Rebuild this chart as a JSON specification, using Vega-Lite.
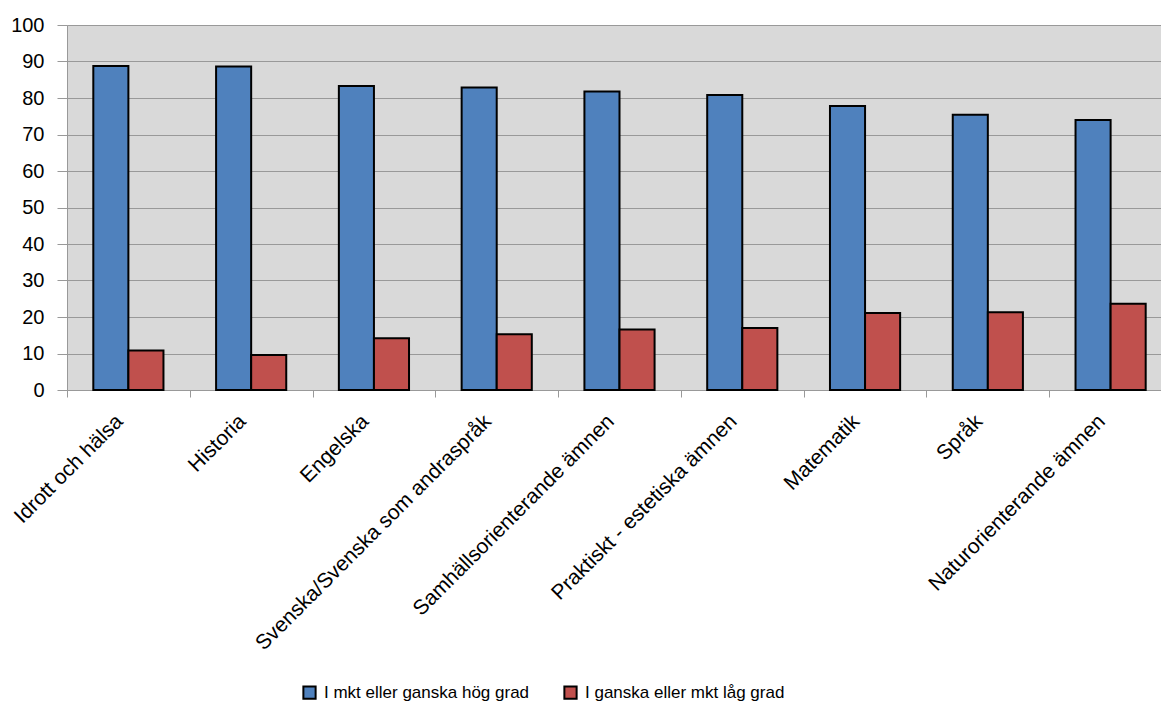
{
  "$schema": "https://vega.github.io/schema/vega-lite/v6.json",
  "width": 1105,
  "height": 365,
  "autosize": {"type": "none"},
  "padding": {"left": 67, "top": 25, "right": 0, "bottom": 316},
  "background": "white",
  "config": {
    "view": {"fill": "#D9D9D9", "stroke": null},
    "font": "Liberation Sans"
  },
  "data": {
    "values": [
      {"subject": "Idrott och hälsa", "series": "I mkt eller ganska hög grad", "value": 88.8},
      {"subject": "Idrott och hälsa", "series": "I ganska eller mkt låg grad", "value": 10.8},
      {"subject": "Historia", "series": "I mkt eller ganska hög grad", "value": 88.6},
      {"subject": "Historia", "series": "I ganska eller mkt låg grad", "value": 9.6},
      {"subject": "Engelska", "series": "I mkt eller ganska hög grad", "value": 83.3},
      {"subject": "Engelska", "series": "I ganska eller mkt låg grad", "value": 14.2},
      {"subject": "Svenska/Svenska som andraspråk", "series": "I mkt eller ganska hög grad", "value": 82.9},
      {"subject": "Svenska/Svenska som andraspråk", "series": "I ganska eller mkt låg grad", "value": 15.3},
      {"subject": "Samhällsorienterande ämnen", "series": "I mkt eller ganska hög grad", "value": 81.8},
      {"subject": "Samhällsorienterande ämnen", "series": "I ganska eller mkt låg grad", "value": 16.6},
      {"subject": "Praktiskt - estetiska ämnen", "series": "I mkt eller ganska hög grad", "value": 80.8},
      {"subject": "Praktiskt - estetiska ämnen", "series": "I ganska eller mkt låg grad", "value": 17.0},
      {"subject": "Matematik", "series": "I mkt eller ganska hög grad", "value": 77.8},
      {"subject": "Matematik", "series": "I ganska eller mkt låg grad", "value": 21.1},
      {"subject": "Språk", "series": "I mkt eller ganska hög grad", "value": 75.4},
      {"subject": "Språk", "series": "I ganska eller mkt låg grad", "value": 21.3},
      {"subject": "Naturorienterande ämnen", "series": "I mkt eller ganska hög grad", "value": 74.0},
      {"subject": "Naturorienterande ämnen", "series": "I ganska eller mkt låg grad", "value": 23.6}
    ]
  },
  "mark": {"type": "bar", "stroke": "black", "strokeWidth": 2, "strokeJoin": "miter"},
  "encoding": {
    "x": {
      "field": "subject",
      "type": "nominal",
      "sort": null,
      "scale": {"paddingInner": 0, "paddingOuter": 0},
      "axis": {
        "title": null,
        "labelAngle": -45,
        "labelAlign": "right",
        "labelBaseline": "middle",
        "labelFontSize": 21,
        "labelColor": "black",
        "labelPadding": 21,
        "labelOffset": -9,
        "labelLimit": 500,
        "tickBand": "extent",
        "tickSize": 7,
        "tickColor": "#999999",
        "domainColor": "#999999",
        "grid": false
      }
    },
    "xOffset": {
      "field": "series",
      "type": "nominal",
      "sort": ["I mkt eller ganska hög grad", "I ganska eller mkt låg grad"],
      "scale": {"paddingInner": 0, "paddingOuter": 0.75}
    },
    "y": {
      "field": "value",
      "type": "quantitative",
      "scale": {"domain": [0, 100], "nice": false},
      "axis": {
        "title": null,
        "values": [0, 10, 20, 30, 40, 50, 60, 70, 80, 90, 100],
        "labelFontSize": 20,
        "labelColor": "black",
        "labelPadding": 13,
        "tickSize": 10,
        "tickColor": "#999999",
        "domainColor": "#999999",
        "gridColor": "#999999",
        "gridWidth": 1.2
      }
    },
    "color": {
      "field": "series",
      "type": "nominal",
      "sort": ["I mkt eller ganska hög grad", "I ganska eller mkt låg grad"],
      "scale": {"range": ["#4F81BD", "#C0504D"]},
      "legend": {
        "title": null,
        "orient": "none",
        "direction": "horizontal",
        "legendX": 234,
        "legendY": 659,
        "symbolType": "square",
        "symbolSize": 150,
        "symbolStrokeColor": "black",
        "symbolStrokeWidth": 2,
        "labelFontSize": 17,
        "labelColor": "black",
        "labelLimit": 400,
        "labelOffset": 6,
        "columnPadding": 30,
        "symbolOffset": 0
      }
    }
  }
}
